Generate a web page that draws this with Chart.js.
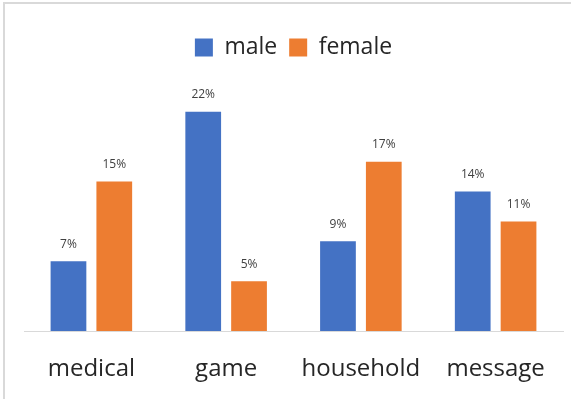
<!DOCTYPE html>
<html>
<head>
<meta charset="utf-8">
<script src="https://cdn.jsdelivr.net/npm/chart.js@4.4.1/dist/chart.umd.min.js"></script>
<style>
  html, body { margin: 0; padding: 0; background: #fff; }
  #wrap { position: relative; width: 571px; height: 399px; overflow: hidden; }
  #frame { position: absolute; left: 3px; top: 2px; right: 0; bottom: 0;
           border-top: 2px solid #d9d9d9; border-left: 2px solid #d9d9d9; }
  canvas { position: absolute; left: 0; top: 0; }
</style>
</head>
<body>
<div id="wrap">
  <div id="frame"></div>
  <canvas id="myChart" width="571" height="399"></canvas>
</div>
<script>
'use strict';

/* DATA */

const categories = ['medical', 'game', 'household', 'message'];
const maleValues = [7, 22, 9, 14];
const femaleValues = [15, 5, 17, 11];

/* VALUE LABELS */

// writes "n%" just above every bar
const valueLabels = {
  id: 'valueLabels',
  afterDatasetsDraw(chart) {
    const ctx = chart.ctx;
    ctx.save();
    ctx.font = '12px "Open Sans"';
    ctx.fillStyle = '#404040';
    ctx.textAlign = 'center';
    ctx.textBaseline = 'middle';
    chart.data.datasets.forEach(function(ds, i) {
      chart.getDatasetMeta(i).data.forEach(function(bar, j) {
        ctx.fillText(ds.data[j] + '%', bar.x, bar.y - 17);
      });
    });
    ctx.restore();
  }
};

/* CHART */

const ctx = document.getElementById('myChart').getContext('2d');
const chart = new Chart(ctx, {
  type: 'bar',
  data: {
    labels: categories,
    datasets: [{
      label: 'male',
      backgroundColor: '#4472C4',
      data: maleValues,
    },
    {
      label: 'female',
      backgroundColor: '#ED7D31',
      data: femaleValues,
    }]
  },
  options: {
    responsive: false,
    animation: false,
    categoryPercentage: 0.68,
    barPercentage: 0.78,
    layout: { padding: { top: 24, left: 24, right: 8, bottom: 0 } },
    plugins: {
      legend: {
        position: 'top',
        labels: {
          boxWidth: 18,
          boxHeight: 18,
          padding: 12,
          color: '#262626',
          font: { family: 'Open Sans', size: 23 }
        }
      },
      tooltip: { enabled: false }
    },
    scales: {
      x: {
        grid: { display: false, drawTicks: false },
        border: { display: true, color: '#d9d9d9', width: 1 },
        ticks: {
          padding: 24,
          color: '#262626',
          font: { family: 'Open Sans', size: 24 }
        },
        // fixed band under the axis line
        afterFit: function(scale) {
          scale.height = 68;
        }
      },
      y: {
        display: false,
        min: 0,
        max: 26.3
      }
    }
  },
  plugins: [valueLabels]
});
</script>
</body>
</html>
